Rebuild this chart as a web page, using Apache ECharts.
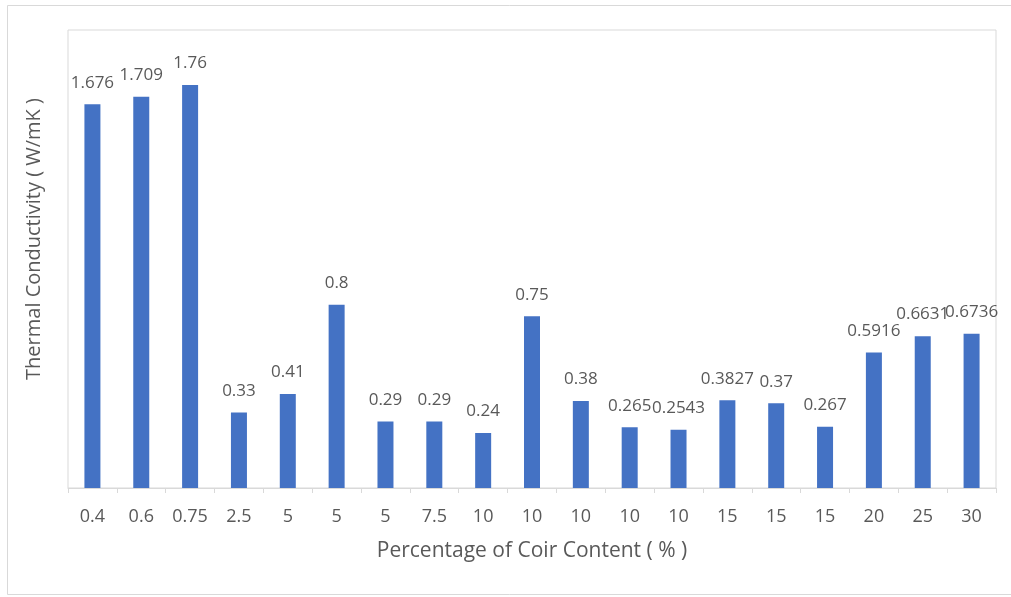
<!DOCTYPE html>
<html>
<head>
<meta charset="utf-8">
<script src="https://cdn.jsdelivr.net/npm/echarts@6/dist/echarts.min.js"></script>
<style>html,body{margin:0;padding:0;background:#fff;}#c{width:1011px;height:597px;}</style>
</head>
<body>
<div id="c"></div>
<script>
const categories = ['0.4','0.6','0.75','2.5','5','5','5','7.5','10','10','10','10','10','15','15','15','20','25','30'];
const conductivity = [1.676,1.709,1.76,0.33,0.41,0.8,0.29,0.29,0.24,0.75,0.38,0.265,0.2543,0.3827,0.37,0.267,0.5916,0.6631,0.6736];
const xAxisName = 'Percentage of Coir Content ( % )';
const yAxisName = 'Thermal Conductivity ( W/mK )';

const FONT = '"Open Sans", "Noto Sans", sans-serif';
const chart = echarts.init(document.getElementById('c'), null, {renderer: 'canvas'});
chart.setOption({
  animation: false,
  backgroundColor: '#fff',
  grid: {left: 68, top: 30, right: 15, bottom: 109, show: true, borderColor: '#d9d9d9', borderWidth: 1, backgroundColor: 'transparent'},
  xAxis: {
    type: 'category',
    data: categories,
    name: xAxisName,
    nameLocation: 'middle',
    nameGap: 53,
    nameTextStyle: {color: '#595959', fontSize: 21, fontFamily: FONT},
    axisLine: {lineStyle: {color: '#d9d9d9', width: 1}},
    axisTick: {show: true, alignWithLabel: false, length: 5, lineStyle: {color: '#d9d9d9'}},
    axisLabel: {color: '#595959', fontSize: 18, fontFamily: FONT, margin: 20, interval: 0}
  },
  yAxis: {
    type: 'value', min: 0, max: 2,
    axisLine: {show: false}, axisTick: {show: false}, axisLabel: {show: false}, splitLine: {show: false}
  },
  graphic: [
    {type: 'rect', shape: {x: 7.5, y: 5.5, width: 1010, height: 589}, style: {fill: 'none', stroke: '#d9d9d9', lineWidth: 1}, silent: true, z: -1},
    {type: 'text', x: 34, y: 239, rotation: Math.PI/2, style: {text: yAxisName, fill: '#595959', font: '20px ' + FONT, align: 'center', verticalAlign: 'middle'}}
  ],
  series: [{
    type: 'bar',
    data: conductivity,
    barWidth: 16,
    itemStyle: {color: '#4472C4'},
    label: {show: true, position: 'top', distance: 13, color: '#595959', fontSize: 17, fontFamily: FONT}
  }]
});
</script>
</body>
</html>
